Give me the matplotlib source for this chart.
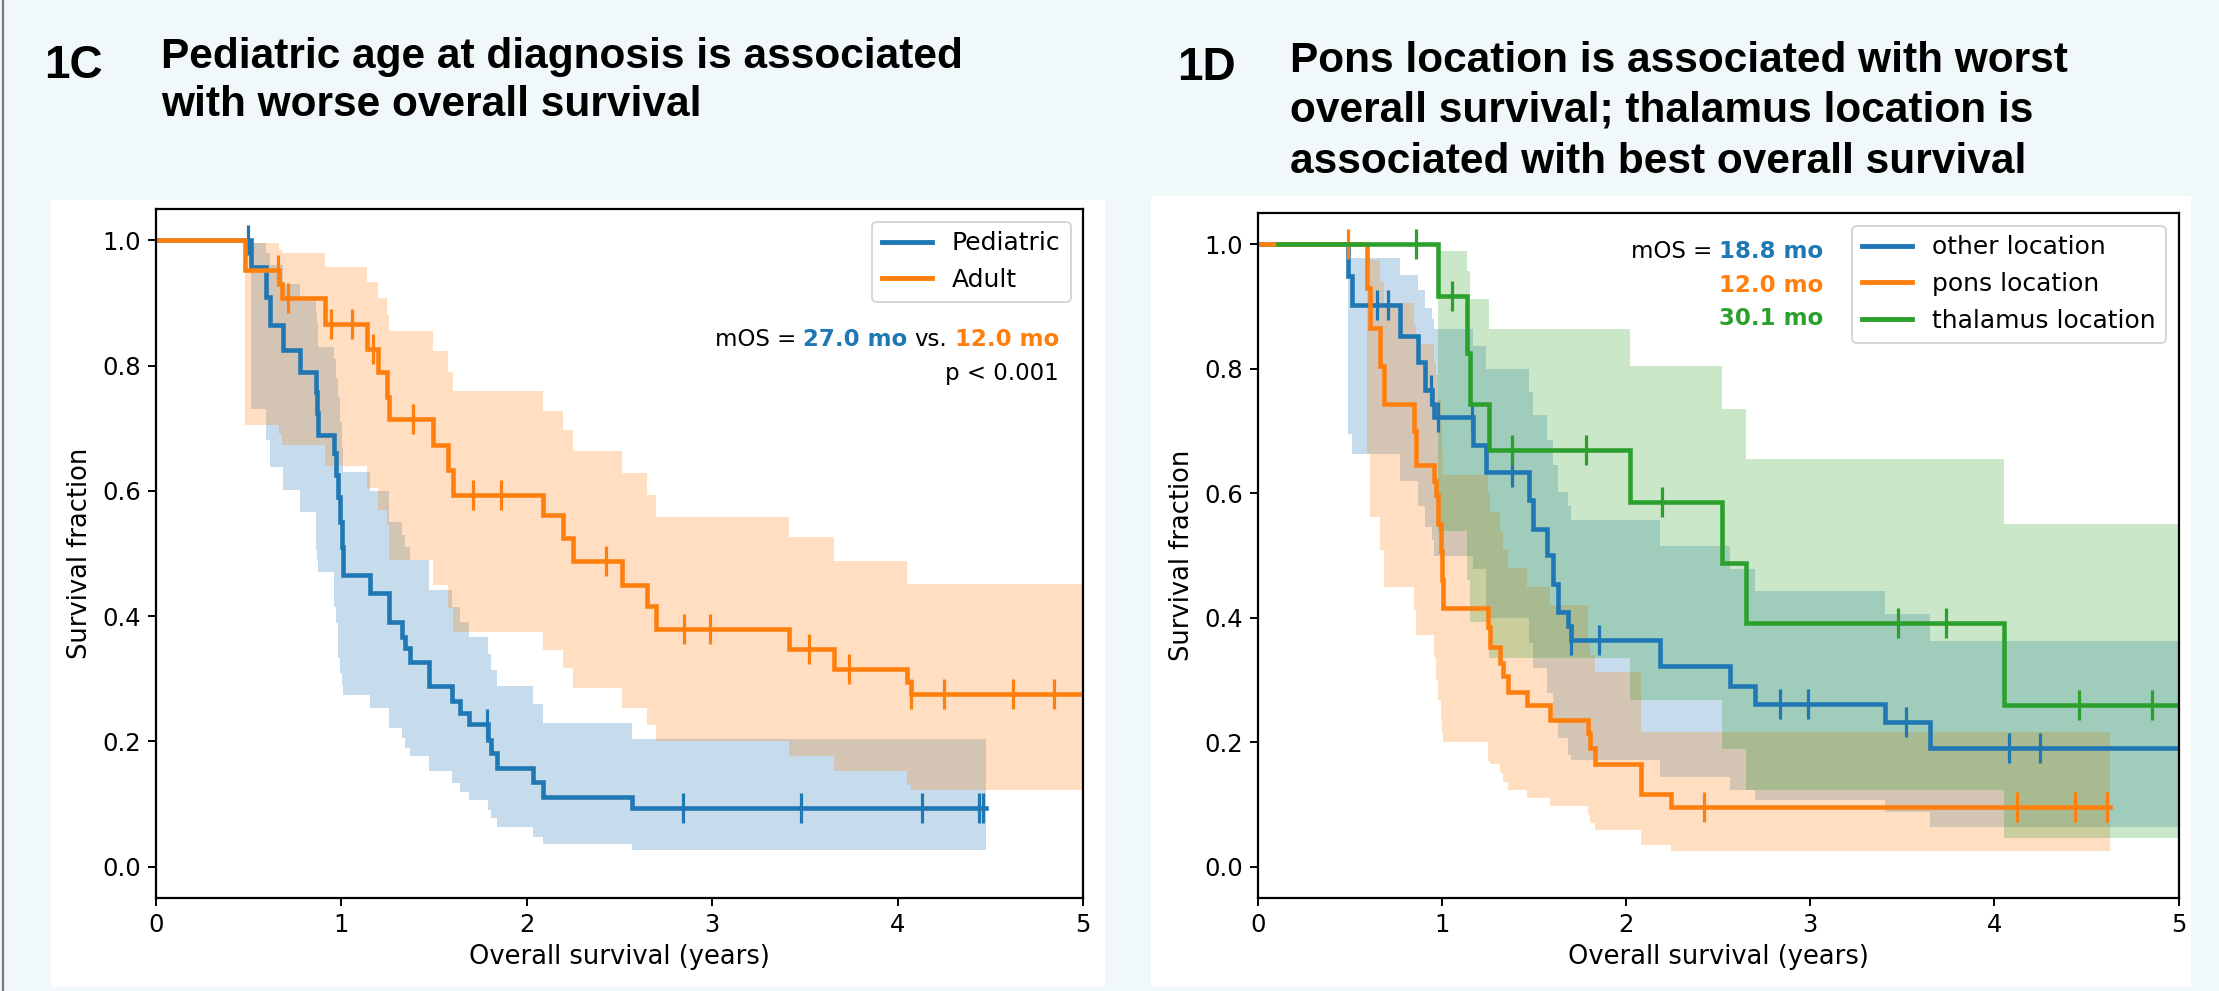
import numpy as np
import matplotlib
matplotlib.use("Agg")
import matplotlib.pyplot as plt
from matplotlib.patches import Rectangle
from matplotlib.lines import Line2D

# ---------------- Panel 1C data (years / survival fraction) ----------------
ped_t = [0, 0.512, 0.595, 0.616, 0.688, 0.778, 0.864, 0.871, 0.877, 0.961, 0.972, 0.985, 0.994,
         1.003, 1.012, 1.155, 1.259, 1.326, 1.344, 1.371, 1.475, 1.596, 1.641, 1.691, 1.793,
         1.807, 1.838, 2.032, 2.090, 2.566]
ped_s = [1.0, 0.957, 0.910, 0.865, 0.825, 0.789, 0.758, 0.724, 0.689, 0.660, 0.625, 0.590, 0.550,
         0.510, 0.466, 0.437, 0.390, 0.367, 0.349, 0.327, 0.288, 0.265, 0.246, 0.227, 0.203,
         0.181, 0.157, 0.135, 0.112, 0.094]
ped_lo = [1.0, 0.73, 0.681, 0.638, 0.601, 0.567, 0.505, 0.49, 0.471, 0.415, 0.389, 0.333, 0.31,
          0.29, 0.274, 0.253, 0.221, 0.205, 0.189, 0.176, 0.152, 0.133, 0.120, 0.107, 0.09,
          0.078, 0.064, 0.048, 0.037, 0.027]
ped_hi = [1.0, 0.995, 0.98, 0.96, 0.93, 0.91, 0.885, 0.87, 0.83, 0.81, 0.78, 0.75, 0.71,
          0.67, 0.63, 0.60, 0.55, 0.53, 0.51, 0.49, 0.442, 0.415, 0.39, 0.367, 0.34,
          0.314, 0.288, 0.259, 0.230, 0.204]
ped_end = 4.476
ped_cens = [0.499, 1.788, 2.841, 3.482, 4.133, 4.440, 4.462]

adu_t = [0, 0.481, 0.666, 0.679, 0.913, 1.137, 1.200, 1.245, 1.259, 1.497, 1.577, 1.604, 2.090,
         2.197, 2.251, 2.515, 2.647, 2.700, 3.415, 3.655, 4.050, 4.075]
adu_s = [1.0, 0.953, 0.931, 0.908, 0.867, 0.827, 0.790, 0.750, 0.714, 0.673, 0.634, 0.593, 0.561,
         0.524, 0.488, 0.450, 0.416, 0.380, 0.348, 0.315, 0.295, 0.275]
adu_lo = [1.0, 0.705, 0.69, 0.673, 0.64, 0.604, 0.569, 0.545, 0.49, 0.450, 0.4125, 0.375, 0.346,
          0.317, 0.285, 0.253, 0.226, 0.201, 0.176, 0.152, 0.13, 0.123]
adu_hi = [1.0, 0.995, 0.985, 0.979, 0.957, 0.934, 0.908, 0.880, 0.855, 0.823, 0.790, 0.759, 0.728,
          0.697, 0.663, 0.628, 0.594, 0.558, 0.526, 0.4885, 0.452, 0.4515]
adu_end = 5.3
adu_cens = [0.658, 0.715, 0.943, 1.060, 1.169, 1.385, 1.712, 1.860, 2.427, 2.850, 2.990, 3.520,
            3.740, 4.075, 4.250, 4.620, 4.845]

# ---------------- Panel 1D data ----------------
oth_t = [0, 0.490, 0.509, 0.771, 0.871, 0.907, 0.945, 0.957, 1.166, 1.238, 1.473, 1.492, 1.568,
         1.604, 1.631, 1.685, 1.703, 2.183, 2.563, 2.699, 3.404, 3.649]
oth_s = [1.0, 0.949, 0.903, 0.853, 0.810, 0.765, 0.743, 0.722, 0.677, 0.634, 0.589, 0.543, 0.5005,
         0.455, 0.410, 0.387, 0.364, 0.3226, 0.291, 0.2623, 0.2324, 0.1909]
oth_lo = [1.0, 0.6955, 0.6635, 0.62, 0.58, 0.545, 0.525, 0.50, 0.479, 0.40, 0.36, 0.32, 0.279,
          0.231, 0.207, 0.18, 0.172, 0.145, 0.124, 0.107, 0.0885, 0.0647]
oth_hi = [1.0, 0.9775, 0.9775, 0.951, 0.926, 0.898, 0.88, 0.864, 0.836, 0.800, 0.762, 0.725, 0.686,
          0.645, 0.602, 0.58, 0.557, 0.515, 0.479, 0.4434, 0.4055, 0.3625]
oth_end = 5.3
oth_cens = [0.648, 0.704, 0.938, 0.980, 1.160, 1.378, 1.703, 1.853, 2.838, 2.985, 3.519, 4.078, 4.246]

pon_t = [0, 0.591, 0.609, 0.663, 0.686, 0.850, 0.858, 0.955, 0.965, 0.979, 0.995, 1.000, 1.003,
         1.251, 1.260, 1.314, 1.332, 1.359, 1.463, 1.586, 1.794, 1.803, 1.830, 2.080, 2.243]
pon_s = [1.0, 0.9295, 0.866, 0.805, 0.7436, 0.70, 0.6447, 0.62, 0.5966, 0.55, 0.508, 0.46, 0.415,
         0.3846, 0.3537, 0.327, 0.3066, 0.2814, 0.260, 0.236, 0.215, 0.1907, 0.1655, 0.1175, 0.0955]
pon_lo = [1.0, 0.6635, 0.562, 0.5085, 0.4497, 0.4124, 0.3723, 0.3376, 0.30, 0.268, 0.235, 0.215,
          0.1998, 0.17, 0.1657, 0.1507, 0.1357, 0.123, 0.1105, 0.0972, 0.0839, 0.07, 0.0598,
          0.0358, 0.0251]
pon_hi = [1.0, 0.99, 0.975, 0.94, 0.905, 0.87, 0.84, 0.81, 0.79, 0.75, 0.71, 0.67, 0.63,
          0.60, 0.57, 0.54, 0.51, 0.48, 0.45, 0.42, 0.36, 0.34, 0.3137, 0.2167, 0.2167]
pon_end = 4.626
pon_cens = [0.491, 2.424, 4.125, 4.436, 4.611]

tha_t = [0.11, 0.979, 1.133, 1.151, 1.256, 2.020, 2.518, 2.650, 4.050]
tha_s = [1.0, 0.917, 0.825, 0.7425, 0.670, 0.5865, 0.488, 0.391, 0.2595]
tha_lo = [1.0, 0.54, 0.46, 0.394, 0.336, 0.2687, 0.19, 0.124, 0.046]
tha_hi = [1.0, 0.989, 0.957, 0.912, 0.864, 0.805, 0.7345, 0.6545, 0.5507]
tha_end = 5.3
tha_cens = [0.858, 1.055, 1.378, 1.781, 2.192, 3.477, 3.739, 4.458, 4.858]

labels_c = ["Pediatric", "Adult"]
labels_d = ["other location", "pons location", "thalamus location"]
x_ticks = [0, 1, 2, 3, 4, 5]
y_ticks = [0.0, 0.2, 0.4, 0.6, 0.8, 1.0]

BLUE, ORANGE, GREEN = "#1f77b4", "#ff7f0e", "#2ca02c"
W, H = 2219, 991

fig = plt.figure(figsize=(W / 100, H / 100), dpi=100)
fig.patch.set_facecolor("#F0F8FA")


def px_rect(x0, y0, x1, y1):
    return [x0 / W, 1 - y1 / H, (x1 - x0) / W, (y1 - y0) / H]


# white panels and slide border
for (x0, y0, x1, y1) in [(51, 200, 1105, 987), (1151, 196, 2191, 987)]:
    r = px_rect(x0, y0, x1, y1)
    fig.add_artist(Rectangle((r[0], r[1]), r[2], r[3], transform=fig.transFigure,
                             facecolor="white", edgecolor="none", zorder=-5))
fig.add_artist(Line2D([3 / W, 3 / W], [0, 1], transform=fig.transFigure,
                      color="#7a7a7a", lw=1.6, zorder=-4))

ax1 = fig.add_axes(px_rect(155.7, 209, 1083, 898))
ax2 = fig.add_axes(px_rect(1257.9, 213, 2178.6, 898))

TICK_FS, LAB_FS, LEG_FS, TXT_FS = 17.5, 18.5, 18, 16.5


def km(ax, t, s, lo, hi, end, cens, color, label):
    tx = list(t) + [end]
    ax.fill_between(tx, list(lo) + [lo[-1]], list(hi) + [hi[-1]], step="post",
                    color=color, alpha=0.25, linewidth=0)
    ax.plot(tx, list(s) + [s[-1]], drawstyle="steps-post", color=color, lw=3.3,
            label=label, solid_joinstyle="miter")
    idx = np.searchsorted(np.array(t), np.array(cens), side="right") - 1
    cy = np.array(s)[idx]
    ax.plot(cens, cy, linestyle="none", marker="|", ms=22, mew=2.3, color=color)


km(ax1, ped_t, ped_s, ped_lo, ped_hi, ped_end, ped_cens, BLUE, labels_c[0])
km(ax1, adu_t, adu_s, adu_lo, adu_hi, adu_end, adu_cens, ORANGE, labels_c[1])

km(ax2, oth_t, oth_s, oth_lo, oth_hi, oth_end, oth_cens, BLUE, labels_d[0])
km(ax2, pon_t, pon_s, pon_lo, pon_hi, pon_end, pon_cens, ORANGE, labels_d[1])
km(ax2, tha_t, tha_s, tha_lo, tha_hi, tha_end, tha_cens, GREEN, labels_d[2])

for ax in (ax1, ax2):
    ax.set_xlim(0, 5)
    ax.set_ylim(-0.05, 1.05)
    ax.set_xticks(x_ticks)
    ax.set_yticks(y_ticks)
    ax.set_yticklabels([f"{v:.1f}" for v in y_ticks])
    ax.tick_params(labelsize=TICK_FS, length=5.5, width=1.4, pad=5, color="black")
    for sp in ax.spines.values():
        sp.set_linewidth(1.6)
        sp.set_color("black")
    ax.set_xlabel("Overall survival (years)", fontsize=LAB_FS, labelpad=5)
    ax.set_ylabel("Survival fraction", fontsize=LAB_FS, labelpad=7)
    ax.set_facecolor("white")
    leg = ax.legend(loc="upper right", fontsize=LEG_FS, handlelength=2.0, framealpha=0.8,
                    edgecolor="#cccccc")
    leg.get_frame().set_linewidth(1.4)
    for ln in leg.get_lines():
        ln.set_linewidth(3.5)

# ---------------- annotations ----------------
fig.canvas.draw()
rend = fig.canvas.get_renderer()
SPACE = 0.318 * TXT_FS * 100 / 72


def rich_right(ax, x, y, parts):
    off = 0.0
    for txt, col, wt in reversed(parts):
        a = ax.annotate(txt, xy=(x, y), xycoords="axes fraction", xytext=(-off, 0),
                        textcoords="offset pixels", ha="right", va="baseline", color=col,
                        fontweight=wt, fontsize=TXT_FS, family="DejaVu Sans")
        bb = a.get_window_extent(renderer=rend)
        off += bb.width + SPACE


rich_right(ax1, 0.974, 0.801, [("mOS =", "black", "normal"), ("27.0 mo", BLUE, "bold"),
                               ("vs.", "black", "normal"), ("12.0 mo", ORANGE, "bold")])
rich_right(ax1, 0.974, 0.7525, [("p < 0.001", "black", "normal")])

rich_right(ax2, 0.614, 0.934, [("mOS =", "black", "normal"), ("18.8 mo", BLUE, "bold")])
rich_right(ax2, 0.614, 0.885, [("12.0 mo", ORANGE, "bold")])
rich_right(ax2, 0.614, 0.8365, [("30.1 mo", GREEN, "bold")])

# ---------------- titles ----------------
TFONT = "Liberation Sans"


def ftext(x, y, s, fs):
    fig.text(x / W, 1 - y / H, s, fontsize=fs, fontweight="bold", family=TFONT,
             ha="left", va="baseline", color="black")


ftext(44, 78.5, "1C", 33)
ftext(161, 68.3, "Pediatric age at diagnosis is associated", 30.5)
ftext(161, 115.5, "with worse overall survival", 30.5)

ftext(1177, 80.5, "1D", 33)
ftext(1290, 71.7, "Pons location is associated with worst", 30.5)
ftext(1290, 121, "overall survival; thalamus location is", 30.5)
ftext(1290, 172.7, "associated with best overall survival", 30.5)

fig.savefig("out.png", dpi=100, facecolor=fig.get_facecolor())
